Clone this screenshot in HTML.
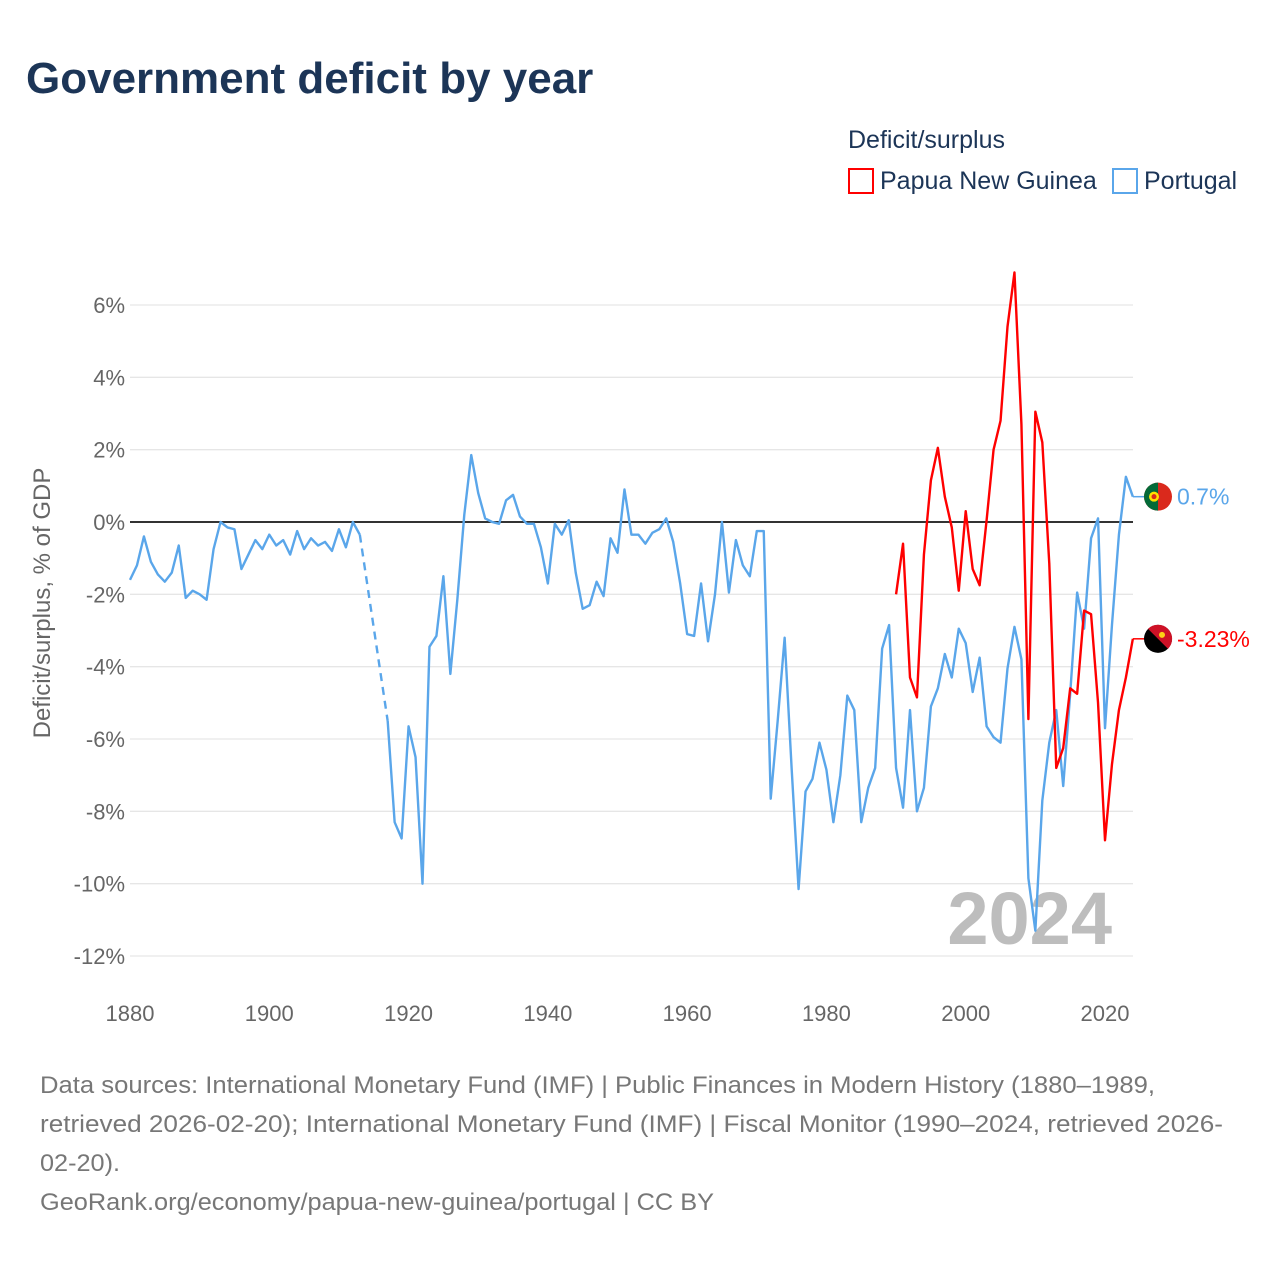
<!DOCTYPE html>
<html><head><meta charset="utf-8">
<style>
body{margin:0;background:#fff;font-family:"Liberation Sans",sans-serif;}
#wrap{position:relative;width:1280px;height:1280px;overflow:hidden;}
</style></head>
<body>
<div id="wrap">
<svg id="chart" width="1280" height="1280" xmlns="http://www.w3.org/2000/svg">
<text x="26" y="93" font-size="44" font-weight="bold" fill="#1c3557" font-family="Liberation Sans, sans-serif">Government deficit by year</text>
<text x="848" y="148" font-size="25" fill="#1c3557">Deficit/surplus</text>
<g>
<rect x="849" y="169" width="24" height="24" fill="#fff" stroke="#ff0000" stroke-width="2"/>
<text x="880" y="189" font-size="25" fill="#1c3557">Papua New Guinea</text>
</g>
<g>
<rect x="1113" y="169" width="24" height="24" fill="#fff" stroke="#5aa6ea" stroke-width="2"/>
<text x="1144" y="189" font-size="25" fill="#1c3557">Portugal</text>
</g>
<g id="grid"></g>
<g id="yticks"></g>
<g id="xticks"></g>
<text transform="translate(50,603) rotate(-90)" text-anchor="middle" font-size="24" fill="#666">Deficit/surplus, % of GDP</text>
<text x="1112" y="944" text-anchor="end" font-size="74" font-weight="bold" fill="#bdbdbd">2024</text>
<g id="series"></g>
<g font-size="24" fill="#777">
<text x="40" y="1093" textLength="1115" lengthAdjust="spacingAndGlyphs">Data sources: International Monetary Fund (IMF) | Public Finances in Modern History (1880–1989,</text>
<text x="40" y="1132" textLength="1183" lengthAdjust="spacingAndGlyphs">retrieved 2026-02-20); International Monetary Fund (IMF) | Fiscal Monitor (1990–2024, retrieved 2026-</text>
<text x="40" y="1171" textLength="80" lengthAdjust="spacingAndGlyphs">02-20).</text>
<text x="40" y="1210" textLength="674" lengthAdjust="spacingAndGlyphs">GeoRank.org/economy/papua-new-guinea/portugal | CC BY</text>
</g>
</svg>
</div>
<script>
const yTicks=[-12,-10,-8,-6,-4,-2,0,2,4,6];
const xTicks=[1880,1900,1920,1940,1960,1980,2000,2020];
const ptYears0=1880;
const portugal=[-1.6,-1.2,-0.4,-1.1,-1.45,-1.65,-1.4,-0.65,-2.1,-1.9,
-2.0,-2.15,-0.75,0,-0.15,-0.2,-1.3,-0.9,-0.5,-0.75,
-0.35,-0.65,-0.5,-0.9,-0.25,-0.75,-0.45,-0.65,-0.55,-0.8,
-0.2,-0.7,0,-0.35,null,null,null,-5.5,-8.3,-8.75,
-5.65,-6.5,-10,-3.45,-3.15,-1.5,-4.2,-2.15,0.2,1.85,
0.8,0.1,0,-0.05,0.6,0.75,0.15,-0.05,-0.05,-0.7,
-1.7,-0.05,-0.35,0.05,-1.4,-2.4,-2.3,-1.65,-2.05,-0.45,
-0.85,0.9,-0.35,-0.35,-0.6,-0.3,-0.2,0.1,-0.55,-1.7,
-3.1,-3.15,-1.7,-3.3,-2.0,0.0,-1.95,-0.5,-1.2,-1.5,
-0.25,-0.25,-7.65,-5.5,-3.2,-6.8,-10.15,-7.45,-7.1,-6.1,
-6.85,-8.3,-7.0,-4.8,-5.2,-8.3,-7.35,-6.8,-3.5,-2.85,
-6.8,-7.9,-5.2,-8.0,-7.35,-5.1,-4.6,-3.65,-4.3,-2.95,
-3.35,-4.7,-3.75,-5.65,-5.95,-6.1,-4.05,-2.9,-3.8,-9.85,
-11.3,-7.7,-6.1,-5.2,-7.3,-4.75,-1.95,-2.95,-0.45,0.1,
-5.7,-2.85,-0.35,1.25,0.7];
const pngYear0=1990;
const png=[-2.0,-0.6,-4.3,-4.85,-0.9,1.15,2.05,0.7,-0.15,-1.9,
0.3,-1.3,-1.75,0.05,2.0,2.8,5.4,6.9,2.7,-5.45,
3.05,2.2,-1.15,-6.8,-6.25,-4.6,-4.75,-2.45,-2.55,-5.0,
-8.8,-6.7,-5.2,-4.3,-3.23];
const labels=["0.7%","-3.23%"];

const NS="http://www.w3.org/2000/svg";
const X0=130,X1=1133,PX_YEAR=975/140;
const xs=y=>X0+(y-1880)*PX_YEAR;
const ys=v=>522-v*(217/6);
function mk(t,a,p){const e=document.createElementNS(NS,t);for(const k in a)e.setAttribute(k,a[k]);p.appendChild(e);return e;}
const grid=document.getElementById('grid'),yt=document.getElementById('yticks'),xt=document.getElementById('xticks'),ser=document.getElementById('series');
yTicks.forEach(v=>{
 const l=mk('line',{x1:X0,x2:X1,y1:ys(v),y2:ys(v),stroke:v===0?'#333':'#e6e6e6','stroke-width':v===0?2:1.3},grid);
 
 
 const t=mk('text',{x:125,y:ys(v)+8,'text-anchor':'end','font-size':22,fill:'#666'},yt);
 t.textContent=v+'%';
 
 
});
xTicks.forEach(y=>{
 const t=mk('text',{x:xs(y),y:1021,'text-anchor':'middle','font-size':22,fill:'#666'},xt);
 t.textContent=y;
 
 
});
function draw(vals,y0,color,name){
 let seg=[],gapStart=null;
 const segs=[],gaps=[];
 vals.forEach((v,i)=>{
  if(v===null){if(seg.length){segs.push(seg);gapStart=seg[seg.length-1];}seg=[];return;}
  const p=[xs(y0+i),ys(v)];
  if(!seg.length&&gapStart){gaps.push([gapStart,p]);gapStart=null;}
  seg.push(p);
 });
 if(seg.length)segs.push(seg);
 segs.forEach(s=>{
  const pl=mk('polyline',{points:s.map(p=>p.join(',')).join(' '),fill:'none',stroke:color,'stroke-width':2.4,'stroke-linejoin':'round'},ser);
  
  
 });
 gaps.forEach(g=>{
  const l=mk('line',{x1:g[0][0],y1:g[0][1],x2:g[1][0],y2:g[1][1],stroke:color,'stroke-width':2.4,'stroke-dasharray':'8,6'},ser);
  
  
 });
 const lv=vals[vals.length-1],ly=ys(lv),lx=xs(y0+vals.length-1);
 const e=mk('line',{x1:lx,x2:lx+14,y1:ly,y2:ly,stroke:color,'stroke-width':1.5},ser);
 
 
 return ly;
}
const ptY=draw(portugal,ptYears0,'#5aa6ea','portugal');
const pgY=draw(png,pngYear0,'#ff0000','papua-new-guinea');
const f1=mk('g',{},ser);


mk('circle',{cx:1158,cy:ptY,r:14,fill:'#da291c'},f1);
mk('path',{d:`M1158 ${ptY-14} A14 14 0 0 0 1158 ${ptY+14} Z`,fill:'#046a38'},f1);
mk('circle',{cx:1154,cy:ptY,r:5,fill:'#ffe000'},f1);
mk('circle',{cx:1154,cy:ptY,r:2.5,fill:'#da291c'},f1);
const f2=mk('g',{},ser);


mk('circle',{cx:1158,cy:pgY,r:14,fill:'#000'},f2);
mk('path',{d:`M1148 ${pgY-10} A14 14 0 0 1 1168 ${pgY+10} Z`,fill:'#ce1126'},f2);
mk('circle',{cx:1162,cy:pgY-4,r:3,fill:'#fcd116'},f2);
const t1=mk('text',{x:1177,y:ptY+8,'font-size':23,fill:'#5aa6ea'},ser);
t1.textContent=labels[0];


const t2=mk('text',{x:1177,y:pgY+8,'font-size':23,fill:'#ff0000'},ser);
t2.textContent=labels[1];


</script>
</body></html>
